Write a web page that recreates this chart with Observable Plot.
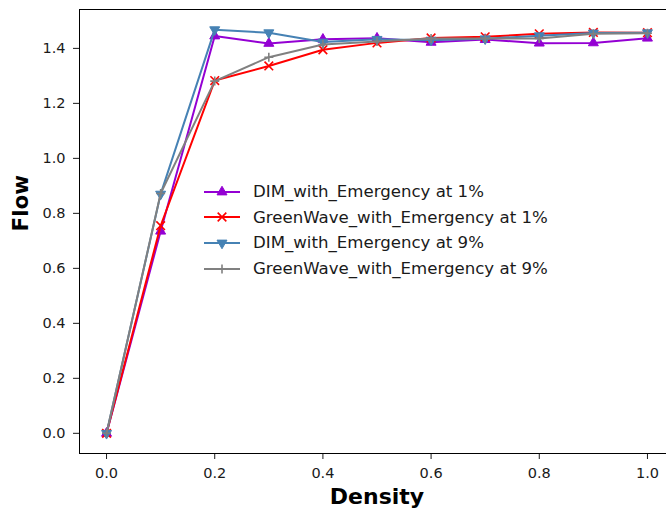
<!DOCTYPE html>
<html>
<head>
<meta charset="utf-8">
<script src="https://cdn.jsdelivr.net/npm/d3@7"></script>
<script src="https://cdn.jsdelivr.net/npm/@observablehq/plot@0.6"></script>
<style>
  html, body { margin: 0; padding: 0; background: #fff; overflow: hidden; }
  #wrap { position: relative; width: 666px; height: 510px; overflow: hidden; }
  #wrap > svg { max-width: none !important; display: block; }
  #legend { position: absolute; left: 203px; top: 179px; font-family: "DejaVu Sans", sans-serif; font-size: 16.6px; color: #1a1a1a; }
  .row { display: flex; align-items: center; height: 25.6px; white-space: nowrap; }
  .row svg { margin-right: 12px; }
</style>
</head>
<body>
<div id="wrap"></div>
<script>
// ---- data ----
const density = [0.0, 0.1, 0.2, 0.3, 0.4, 0.5, 0.6, 0.7, 0.8, 0.9, 1.0];
const dim1 = [0, 0.735, 1.445, 1.418, 1.433, 1.437, 1.422, 1.432, 1.419, 1.420, 1.437];
const gw1  = [0, 0.755, 1.283, 1.336, 1.395, 1.420, 1.438, 1.442, 1.453, 1.458, 1.457];
const dim9 = [0, 0.870, 1.468, 1.457, 1.423, 1.433, 1.430, 1.435, 1.446, 1.456, 1.457];
const gw9  = [0, 0.872, 1.281, 1.368, 1.414, 1.425, 1.436, 1.436, 1.436, 1.453, 1.455];
const seriesNames = ["DIM_with_Emergency at 1%", "GreenWave_with_Emergency at 1%", "DIM_with_Emergency at 9%", "GreenWave_with_Emergency at 9%"];
const xTicks = [0.0, 0.2, 0.4, 0.6, 0.8, 1.0];
const yTicks = [0.0, 0.2, 0.4, 0.6, 0.8, 1.0, 1.2, 1.4];

// ---- styles ----
const sqrt3 = Math.sqrt(3);
const triangleDown = {
  draw(context, size) {
    const y = -Math.sqrt(size / (sqrt3 * 3));
    context.moveTo(0, -y * 2);
    context.lineTo(-sqrt3 * y, y);
    context.lineTo(sqrt3 * y, y);
    context.closePath();
  }
};
const styles = [
  {color: "#9400d3", symbol: "triangle", r: 3.7, filled: true},
  {color: "#ff0000", symbol: "times", r: 4.0, filled: false},
  {color: "#4682b4", symbol: triangleDown, r: 3.7, filled: true},
  {color: "#808080", symbol: "plus", r: 3.0, filled: false}
];
const values = [dim1, gw1, dim9, gw9];

const marks = [];
values.forEach((vals, i) => {
  const data = density.map((d, j) => ({x: d, y: vals[j]}));
  const s = styles[i];
  marks.push(Plot.line(data, {x: "x", y: "y", stroke: s.color, strokeWidth: 2}));
  marks.push(Plot.dot(data, {
    x: "x", y: "y", symbol: s.symbol, r: s.r,
    fill: s.filled ? s.color : "none",
    stroke: s.color, strokeWidth: s.filled ? 1 : 1.6
  }));
});

const chart = Plot.plot({
  width: 680,
  height: 510,
  marginLeft: 79,
  marginRight: 6,
  marginTop: 9,
  marginBottom: 57,
  style: {fontFamily: "DejaVu Sans, sans-serif", fontSize: "14.5px", color: "#1a1a1a", background: "#fff", maxWidth: "none"},
  x: {domain: [-0.05, 1.05]},
  y: {domain: [-0.0734, 1.5414]},
  marks: [
    Plot.axisX({ticks: xTicks, tickFormat: d3.format(".1f"), tickSize: 6, tickPadding: 8, label: null, fontSize: 14.5}),
    Plot.axisY({ticks: yTicks, tickFormat: d3.format(".1f"), tickSize: 6, tickPadding: 8, label: null, fontSize: 14.5}),
    ...marks,
    Plot.frame({stroke: "#000", strokeWidth: 1}),
    Plot.text(["Density"], {frameAnchor: "bottom", dy: 50, text: d => d, fontWeight: "bold", fontSize: 22, fill: "#000"}),
    Plot.text(["Flow"], {frameAnchor: "left", dx: -58, rotate: -90, text: d => d, fontWeight: "bold", fontSize: 21.5, fill: "#000"})
  ]
});

const wrap = document.getElementById("wrap");
wrap.appendChild(chart);

// ---- legend ----
const legend = document.createElement("div");
legend.id = "legend";
seriesNames.forEach((name, i) => {
  const s = styles[i];
  const row = document.createElement("div");
  row.className = "row";
  const sv = d3.create("svg").attr("width", 38).attr("height", 14);
  sv.append("line").attr("x1", 1).attr("x2", 37).attr("y1", 7).attr("y2", 7).attr("stroke", s.color).attr("stroke-width", 2);
  const sym = d3.symbol().type(typeof s.symbol === "string" ? {triangle: d3.symbolTriangle, times: d3.symbolTimes, plus: d3.symbolPlus}[s.symbol] : s.symbol).size(Math.PI * s.r * s.r);
  sv.append("path").attr("d", sym()).attr("transform", "translate(19,7)")
    .attr("fill", s.filled ? s.color : "none").attr("stroke", s.color).attr("stroke-width", s.filled ? 1 : 1.6);
  row.appendChild(sv.node());
  const t = document.createElement("span");
  t.textContent = name;
  row.appendChild(t);
  legend.appendChild(row);
});
wrap.appendChild(legend);
</script>
</body>
</html>
